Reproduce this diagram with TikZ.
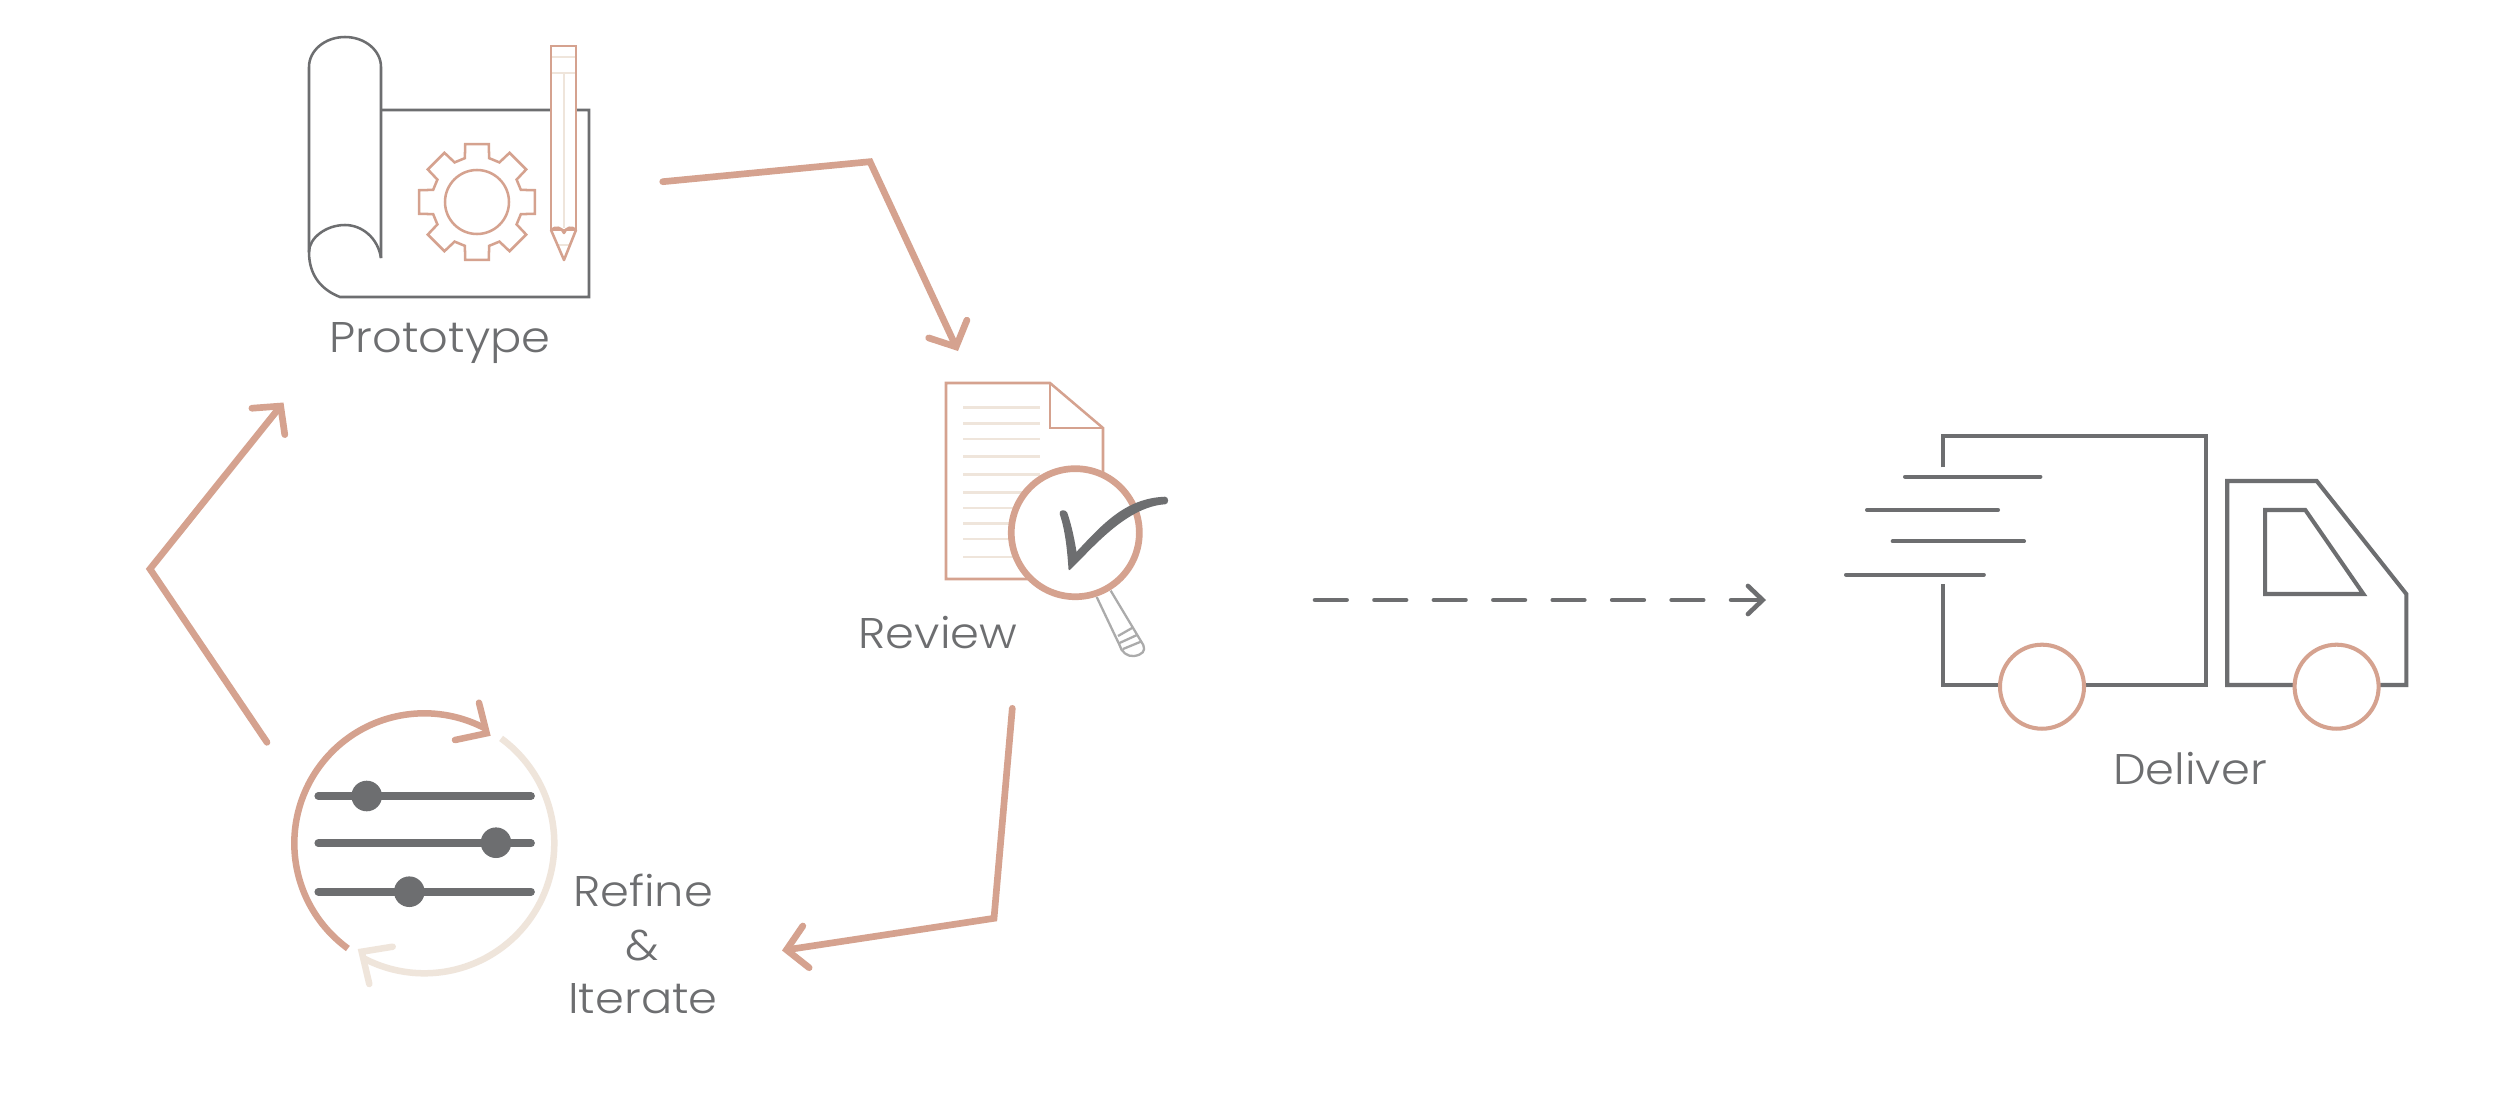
\documentclass[tikz,border=0pt]{standalone}
\usepackage{fontspec}
\setmainfont{Poppins Light}[FakeStretch=1.08]
\usetikzlibrary{arrows.meta}
\definecolor{rose}{HTML}{D5A28F}
\definecolor{sand}{HTML}{EFE5DB}
\definecolor{slate}{HTML}{6D6E70}
\definecolor{handle}{HTML}{ABABAB}
\tikzset{
  flow/.style={draw=rose,line width=1.9pt,line join=miter,line cap=round,-{Straight Barb[length=5.6pt,width=12pt,line cap=round]}},
  icon/.style={draw=slate,line width=0.72pt},
  iconrose/.style={draw=rose,line width=0.72pt},
  faint/.style={draw=sand,line width=0.72pt},
  truck/.style={draw=slate,line width=1.15pt,line cap=butt},
  speed/.style={draw=slate,line width=1.15pt,line cap=round},
  slider/.style={draw=slate,line width=2.2pt,line cap=round},
  knob/.style={circle,fill=slate,minimum size=30.6*0.2845pt,inner sep=0pt},
  wheel/.style={circle,draw=rose,fill=white,line width=1.15pt,minimum size=84*0.2845pt,inner sep=0pt},
  lab/.style={text=slate,font=\fontsize{12.2pt}{14pt}\selectfont,anchor=base,inner sep=0pt,align=center}
}
\begin{document}
\begin{tikzpicture}[x=0.01cm,y=-0.01cm]
\useasboundingbox (0,0) rectangle (2500,1112);
\fill[white] (0,0) rectangle (2500,1112);
% Prototype icon
\draw[icon] (381,258) .. controls (378,238) and (362,225) .. (345,225) .. controls (326,225) and (309,238) .. (309,252)
  .. controls (309,276) and (322,290) .. (340,297) -- (589,297) -- (589,110) -- (381,110);
\draw[icon] (309,252) -- (309,67) .. controls (309,50.5) and (325,37) .. (345,37) .. controls (365,37) and (381,50.5) .. (381,67) -- (381,258);
\begin{scope}[shift={(477,202)}]
\draw[iconrose] (-11.5:59) \foreach \a in {0,45,...,315}{ -- (\a-11.5:59) -- (\a+11.5:59) -- (\a+15.5:45.5) -- (\a+29.5:45.5)} -- cycle;
\draw[iconrose] (0,0) circle (32);
\end{scope}
\draw[iconrose,fill=white] (551,46) rectangle (576,230);
\draw[faint] (552,57) -- (575,57) (552,73) -- (575,73) (564,73) -- (564,228) (558,245) -- (570,245);
\draw[iconrose,line join=round] (551,230) -- (564,260) -- (576,230) .. controls (572,226) and (566,227) .. (564,233) .. controls (562,227) and (555,226) .. (551,230);
\node[lab] (prototype) at (440,352.5) {Prototype};
% Review icon
\draw[iconrose,fill=white] (1050,383) -- (946,383) -- (946,579) -- (1103,579) -- (1103,428) -- cycle;
\draw[iconrose] (1050,383) -- (1050,428) -- (1103,428);
\foreach \yy in {407.7,423.3,439,456.7,474.7,492.7,508,523.7,539,557}{\draw[faint] (963,\yy) -- (1040,\yy);}
\draw[handle,line width=0.65pt,line join=round,fill=white] (1096.7,597) -- (1119.5,645) .. controls (1121,652) and (1128,657) .. (1134,656) .. controls (1142,655) and (1146,651) .. (1143.3,645) -- (1110.7,590.7)
 (1118,636) -- (1132,628) (1119.5,643) -- (1137,635) (1123,649) -- (1140,642);
\node[circle,draw=rose,fill=white,line width=1.9pt,minimum size=128*0.2845pt,inner sep=0pt] (lens) at (1075.3,532.7) {};
\filldraw[fill=slate,draw=slate,line width=0.45pt,line join=round] (1060.5,514) .. controls (1066,530) and (1068,550) .. (1069.3,569.3) .. controls (1090,550) and (1125,506) .. (1165,503.5) .. controls (1168,503.5) and (1168,497.5) .. (1165,497.5) .. controls (1125,499) and (1102,526) .. (1076,553.5) .. controls (1073,535) and (1070,523) .. (1066.5,513) .. controls (1065,510) and (1059.5,510.5) .. (1060.5,514) -- cycle;
\node[lab] (review) at (938,648) {Review};
% Refine icon
\draw[rose,line width=1.85pt,line cap=butt] plot[domain=234:62,samples=90,smooth] ({424.3+130*cos(\x)},{843.3-130*sin(\x)});
\draw[sand,line width=1.85pt,line cap=butt] plot[domain=53.8:-118,samples=90,smooth] ({424.3+130*cos(\x)},{843.3-130*sin(\x)});
\coordinate (roseTip) at (486.7,733.3);
\coordinate (roseA) at (479,702.7);
\coordinate (roseB) at (455,740);
\coordinate (sandTip) at (361.7,951.7);
\coordinate (sandA) at (392.7,946.7);
\coordinate (sandB) at (369.3,984);
\draw[rose,line width=1.85pt,line cap=round,line join=miter] (roseA) -- (roseTip) -- (roseB);
\draw[sand,line width=1.85pt,line cap=round,line join=miter] (sandA) -- (sandTip) -- (sandB);
\draw[slider] (318.3,796) -- (531,796);
\draw[slider] (318.3,843.3) -- (531,843.3);
\draw[slider] (318.3,891.7) -- (531,891.7);
\node[knob] (k1) at (366.7,796) {};
\node[knob] (k2) at (496,842.7) {};
\node[knob] (k3) at (409.3,891.7) {};
\node[lab] (refine) at (643,906.7) {Refine};
\node[lab] (amp) at (642.3,960.7) {\&};
\node[lab] (iterate) at (643,1013.3) {Iterate};
% Truck
\draw[truck] (1943.2,467.3) -- (1943.2,435.7) -- (2205.8,435.7) -- (2205.8,685) -- (1943.2,685) -- (1943.2,584);
\draw[speed] (1905,476.7) -- (2040.4,476.7);
\draw[speed] (1867,510) -- (1998,510);
\draw[speed] (1892.7,541.3) -- (2024,541.3);
\draw[speed] (1846,574.7) -- (1983.8,574.7);
\draw[truck,line join=miter] (2227.2,685) -- (2227.2,481) -- (2316.7,481) -- (2406.3,594) -- (2406.3,685) -- cycle;
\draw[truck,line join=miter] (2265,510) -- (2305.3,510) -- (2363.4,594) -- (2265,594) -- cycle;
\node[wheel] (w1) at (2042,686.7) {};
\node[wheel] (w2) at (2336.6,686.7) {};
\node[lab] (deliver) at (2190,784) {Deliver};
% Connectors
\coordinate (a1) at (662.7,181.7); \coordinate (a1m) at (870,161.7); \coordinate (a1e) at (958,351);
\coordinate (a3) at (1012.3,708.3); \coordinate (a3m) at (994,918.3); \coordinate (a3e) at (782,950.5);
\coordinate (a4) at (267,742.3); \coordinate (a4m) at (150,569); \coordinate (a4e) at (283.5,402.5);
\coordinate (d1) at (1315,600); \coordinate (d2) at (1766,600);
\draw[flow] (a1) -- (a1m) -- (a1e);
\draw[flow] (a3) -- (a3m) -- (a3e);
\draw[flow] (a4) -- (a4m) -- (a4e);
\draw[draw=slate,line width=1.3pt,line cap=round,dash pattern=on 9pt off 7.9pt,-{Straight Barb[length=4.2pt,width=8pt,line cap=round]}] (d1) -- (d2);
\end{tikzpicture}
\end{document}
